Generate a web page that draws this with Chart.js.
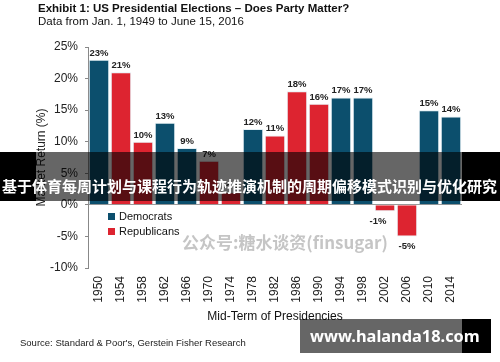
<!DOCTYPE html>
<html>
<head>
<meta charset="utf-8">
<script src="https://cdn.jsdelivr.net/npm/chart.js@4.4.1/dist/chart.umd.min.js"></script>
<style>
  html, body { margin: 0; padding: 0; background: #fff; }
  canvas { display: block; }
</style>
</head>
<body>
<canvas id="grafico" width="500" height="362"></canvas>
<script>
var anos = ["1950", "1954", "1958", "1962", "1966", "1970", "1974", "1978", "1982",
            "1986", "1990", "1994", "1998", "2002", "2006", "2010", "2014"];
var retornos = [23, 21, 10, 13, 9, 7, 2, 12, 11, 18, 16, 17, 17, -1, -5, 15, 14];
var partidos = ["D", "R", "R", "D", "D", "R", "R", "D", "R", "R", "R", "D", "D", "R", "R", "D", "D"];
var yTicks = [-10, -5, 0, 5, 10, 15, 20, 25];

var AZUL = "#0c4f6d";
var VERMELHO = "#dd2430";
var FONTE = "'Liberation Sans', Arial, sans-serif";

// escreve o texto ajustando o tamanho da fonte para caber na largura
function textoNaLargura(ctx, txt, x, y, largura, peso, familia) {
  ctx.font = peso + " 20px " + familia;
  var w = ctx.measureText(txt).width;
  var tam = 20 * largura / w;
  ctx.font = peso + " " + tam.toFixed(2) + "px " + familia;
  ctx.fillText(txt, x, y);
}

var extras = {
  id: "extras",
  afterDraw: function (chart) {
    var ctx = chart.ctx;
    ctx.save();

    // titulo
    ctx.fillStyle = "#111";
    ctx.textAlign = "left";
    ctx.textBaseline = "alphabetic";
    ctx.font = "bold 11.5px " + FONTE;
    ctx.fillText("Exhibit 1: US Presidential Elections \u2013 Does Party Matter?", 38, 12);
    ctx.font = "11.5px " + FONTE;
    ctx.fillText("Data from Jan. 1, 1949 to June 15, 2016", 38, 25);

    // rotulos das barras
    ctx.font = "bold 9.5px " + FONTE;
    ctx.fillStyle = "#222";
    ctx.textAlign = "center";
    chart.getDatasetMeta(0).data.forEach(function (bar, i) {
      var v = retornos[i];
      if (v >= 0) {
        ctx.textBaseline = "bottom";
        ctx.fillText(v + "%", bar.x, bar.y - 2);
      } else {
        ctx.textBaseline = "top";
        ctx.fillText(v + "%", bar.x - (v === -1 ? 7 : 0), bar.y + 5);
      }
    });

    // legenda
    ctx.textAlign = "left";
    ctx.textBaseline = "middle";
    ctx.font = "11px " + FONTE;
    ctx.fillStyle = AZUL;
    ctx.fillRect(108, 213, 7, 7);
    ctx.fillStyle = VERMELHO;
    ctx.fillRect(108, 228, 7, 7);
    ctx.fillStyle = "#111";
    ctx.fillText("Democrats", 119, 217);
    ctx.fillText("Republicans", 119, 232);

    // fonte
    ctx.font = "9.5px " + FONTE;
    ctx.fillStyle = "#222";
    ctx.fillText("Source: Standard & Poor's, Gerstein Fisher Research", 20, 343);

    // marca d'agua
    ctx.fillStyle = "rgba(150,150,150,0.55)";
    textoNaLargura(ctx, "公众号:糖水谈资(finsugar)", 182, 243, 206, "bold", "'Noto Sans CJK SC', sans-serif");

    // faixa
    ctx.fillStyle = "rgba(0,0,0,0.6)";
    ctx.fillRect(36, 152, 426, 49);
    ctx.fillStyle = "#000";
    ctx.fillRect(0, 152, 36, 49);
    ctx.fillRect(462, 152, 38, 49);
    ctx.fillStyle = "#fff";
    ctx.textAlign = "left";
    textoNaLargura(ctx, "基于体育每周计划与课程行为轨迹推演机制的周期偏移模式识别与优化研究",
      2, 186, 495, "bold", "'Noto Sans CJK SC', sans-serif");

    // caixa do site
    ctx.fillStyle = "rgba(0,0,0,0.6)";
    ctx.fillRect(300, 319, 162, 34);
    ctx.fillStyle = "#000";
    ctx.fillRect(462, 319, 29, 34);
    ctx.fillStyle = "#fff";
    textoNaLargura(ctx, "www.halanda18.com", 310, 337, 170, "bold", "'Noto Sans', sans-serif");

    ctx.restore();
  }
};

var ctx = document.getElementById("grafico").getContext("2d");
var chart = new Chart(ctx, {
  type: "bar",
  data: {
    labels: anos,
    datasets: [
      {
        label: "Market Return",
        data: retornos,
        backgroundColor: partidos.map(function (p) { return p === "D" ? AZUL : VERMELHO; }),
        borderColor: "rgba(225,238,244,0.9)",
        borderWidth: 1,
        categoryPercentage: 1,
        barPercentage: 0.93
      }
    ]
  },
  options: {
    responsive: false,
    animation: false,
    layout: { padding: { left: 30, right: 38, top: 47, bottom: 34 } },
    plugins: {
      legend: { display: false },
      tooltip: { enabled: false }
    },
    scales: {
      x: {
        grid: { display: false },
        border: { display: false },
        ticks: {
          color: "#222",
          font: { family: FONTE, size: 12 },
          minRotation: 90,
          maxRotation: 90,
          padding: 0
        },
        title: {
          display: true,
          text: "Mid-Term of Presidencies",
          color: "#111",
          font: { family: FONTE, size: 12 }
        },
        afterFit: function (s) { s.height = 60; }
      },
      y: {
        min: -10,
        max: 25,
        afterBuildTicks: function (s) {
          s.ticks = yTicks.map(function (v) { return { value: v }; });
        },
        ticks: {
          color: "#222",
          font: { family: FONTE, size: 12 },
          padding: 7,
          callback: function (v) { return v + "%"; }
        },
        grid: {
          color: function (c) { return c.tick && c.tick.value === 0 ? "#999" : "rgba(0,0,0,0)"; },
          tickColor: "#888",
          tickLength: 3
        },
        border: { display: true, color: "#888" },
        title: {
          display: true,
          text: "Market Return (%)",
          color: "#222",
          font: { family: FONTE, size: 12 }
        },
        afterFit: function (s) { s.width = 58; }
      }
    }
  },
  plugins: [extras]
});
</script>
</body>
</html>
